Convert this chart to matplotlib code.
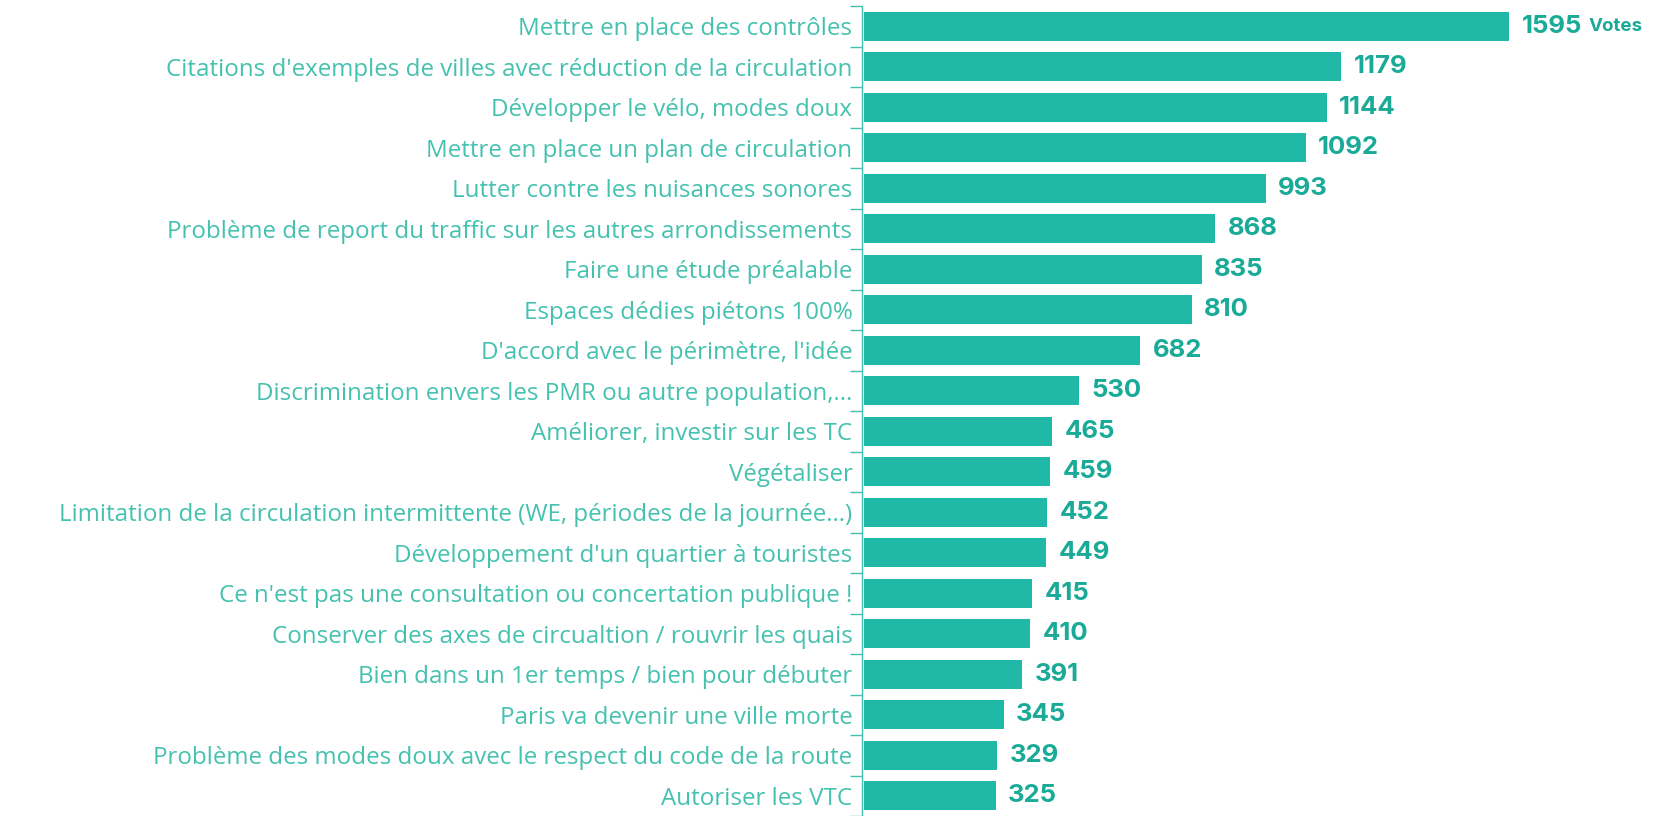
import matplotlib
matplotlib.use("Agg")
import matplotlib.pyplot as plt

categories = [
    "Mettre en place des contrôles",
    "Citations d'exemples de villes avec réduction de la circulation",
    "Développer le vélo, modes doux",
    "Mettre en place un plan de circulation",
    "Lutter contre les nuisances sonores",
    "Problème de report du traffic sur les autres arrondissements",
    "Faire une étude préalable",
    "Espaces dédies piétons 100%",
    "D'accord avec le périmètre, l'idée",
    "Discrimination envers les PMR ou autre population,...",
    "Améliorer, investir sur les TC",
    "Végétaliser",
    "Limitation de la circulation intermittente (WE, périodes de la journée...)",
    "Développement d'un quartier à touristes",
    "Ce n'est pas une consultation ou concertation publique !",
    "Conserver des axes de circualtion / rouvrir les quais",
    "Bien dans un 1er temps / bien pour débuter",
    "Paris va devenir une ville morte",
    "Problème des modes doux avec le respect du code de la route",
    "Autoriser les VTC",
]
votes = [1595, 1179, 1144, 1092, 993, 868, 835, 810, 682, 530,
         465, 459, 452, 449, 415, 410, 391, 345, 329, 325]
unit_label = "Votes"

BAR = "#20B9A8"
VAL = "#19AA98"
LAB = "#45C1B0"

plt.rcParams["font.family"] = ["Open Sans", "DejaVu Sans"]

fig = plt.figure(figsize=(16.62, 8.16), dpi=100)
ax = fig.add_axes([0.52, 0.0, 0.48, 1.0])

y = list(range(len(categories)))
ax.barh(y, votes, height=0.72, color=BAR, zorder=2)
ax.set_xlim(0, 1973)
ax.set_ylim(19.35, -0.65)

ax.set_yticks(y)
ax.set_yticklabels(categories)
ax.set_yticks([i - 0.5 for i in range(len(categories) + 1)], minor=True)
ax.tick_params(axis="y", which="major", length=0, pad=7, labelcolor=LAB,
               labelsize=17.4)
ax.tick_params(axis="y", which="minor", length=9, color=LAB, width=1)
ax.set_xticks([])

for s in ["top", "right", "bottom"]:
    ax.spines[s].set_visible(False)
ax.spines["left"].set_color(LAB)
ax.spines["left"].set_linewidth(1)
ax.spines["left"].set_bounds(-0.5, 19.5)
ax.spines["left"].set_position(("data", -5))

for i, v in enumerate(votes):
    t = ax.annotate(str(v), xy=(v, i), xytext=(9, 0), textcoords="offset points",
                    ha="left", va="center", fontsize=18.5, fontweight="bold",
                    color=VAL, family="Inter")
    if i == 0:
        ax.annotate(unit_label, xy=(1, 0.5), xycoords=t, xytext=(5, 0),
                    textcoords="offset points", ha="left", va="center",
                    fontsize=13.5, fontweight="bold", color=VAL, family="Inter")

fig.savefig("out.png", dpi=100)
